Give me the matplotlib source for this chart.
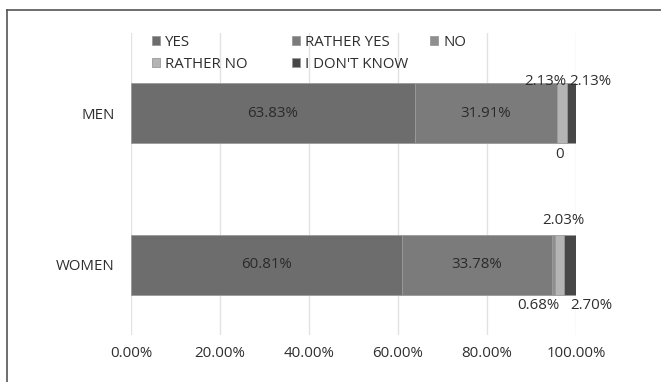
import matplotlib.pyplot as plt
import matplotlib.ticker as mticker
from matplotlib.lines import Line2D
import numpy as np

plt.rcParams['font.family'] = ['Open Sans', 'DejaVu Sans']

groups = ['WOMEN', 'MEN']
answers = ['YES', 'RATHER YES', 'NO', 'RATHER NO', "I DON'T KNOW"]
men = [63.83, 31.91, 0.0, 2.13, 2.13]
women = [60.81, 33.78, 0.68, 2.03, 2.70]
colors = ['#6d6d6d', '#7b7b7b', '#8e8e8e', '#b4b4b4', '#474747']
text_col = '#2e2e2e'
fs = 10.8

fig = plt.figure(figsize=(6.61, 3.82), dpi=100)
ax = fig.add_axes([131/661, 1-335/382, 445/661, 302/382])

vals = np.array([women, men])
ypos = np.arange(len(groups))
bh = 0.396
left = np.zeros(len(groups))
bars = []
for i, name in enumerate(answers):
    b = ax.barh(ypos, vals[:, i], left=left, height=bh, color=colors[i],
                edgecolor='#9a9a9a', linewidth=0.6, label=name, zorder=2)
    bars.append(b)
    left = left + vals[:, i]

# labels inside the two big segments
for i in range(2):
    for j in range(len(groups)):
        r = bars[i][j]
        ax.text(r.get_x() + r.get_width()/2, ypos[j], '%.2f%%' % vals[j, i],
                ha='center', va='center', fontsize=fs, color='#2a2a2a', zorder=3)

# small segments: labels outside (segment, group, dx pt, dy pt, above?)
small = [(2, 1, 2, -8.5, False), (3, 1, -11.5, 1, True), (4, 1, 14, 1, True),
         (2, 0, -10.5, -8, False), (3, 0, 2.5, 10, True), (4, 0, 15, -8, False)]
for i, j, dx, dy, above in small:
    r = bars[i][j]
    v = vals[j, i]
    txt = '0' if v == 0 else '%.2f%%' % v
    y = ypos[j] + (bh/2 if above else -bh/2)
    ax.annotate(txt, (r.get_x() + r.get_width()/2, y),
                xytext=(dx, dy), textcoords='offset points',
                ha='center', va='center', fontsize=fs, color=text_col, zorder=3)

ax.set_xlim(0, 100)
ax.set_ylim(-0.465, 1.528)
ax.xaxis.set_major_locator(mticker.MultipleLocator(20))
ax.xaxis.set_major_formatter(mticker.FuncFormatter(lambda x, p: '%.2f%%' % x))
ax.set_yticks(ypos)
ax.set_yticklabels(groups)
ax.tick_params(axis='both', length=0, labelsize=fs, labelcolor=text_col)
ax.tick_params(axis='x', pad=8)
ax.tick_params(axis='y', pad=11.5)
ax.grid(axis='x', color='#e2e2e2', linewidth=1, zorder=0)
for s in ax.spines.values():
    s.set_visible(False)

# legend: three columns placed like the original
cols = [([bars[0], bars[3]], [answers[0], answers[3]], 152),
        ([bars[1], bars[4]], [answers[1], answers[4]], 292),
        ([bars[2]], [answers[2]], 430)]
for h, l, xpix in cols:
    fig.legend(h, l, loc='upper left', bbox_to_anchor=(xpix/661, 1-35/382),
               frameon=False, fontsize=fs, handlelength=0.54, handleheight=0.54,
               handletextpad=0.35, labelspacing=0.48, labelcolor=text_col,
               borderpad=0, borderaxespad=0)

# page border (top and left)
fig.add_artist(Line2D([7/661, 1], [1-10/382, 1-10/382], color='#555555', lw=1.2))
fig.add_artist(Line2D([7/661, 7/661], [0, 1-10/382], color='#555555', lw=1.2))

fig.savefig('out.png', dpi=100)
